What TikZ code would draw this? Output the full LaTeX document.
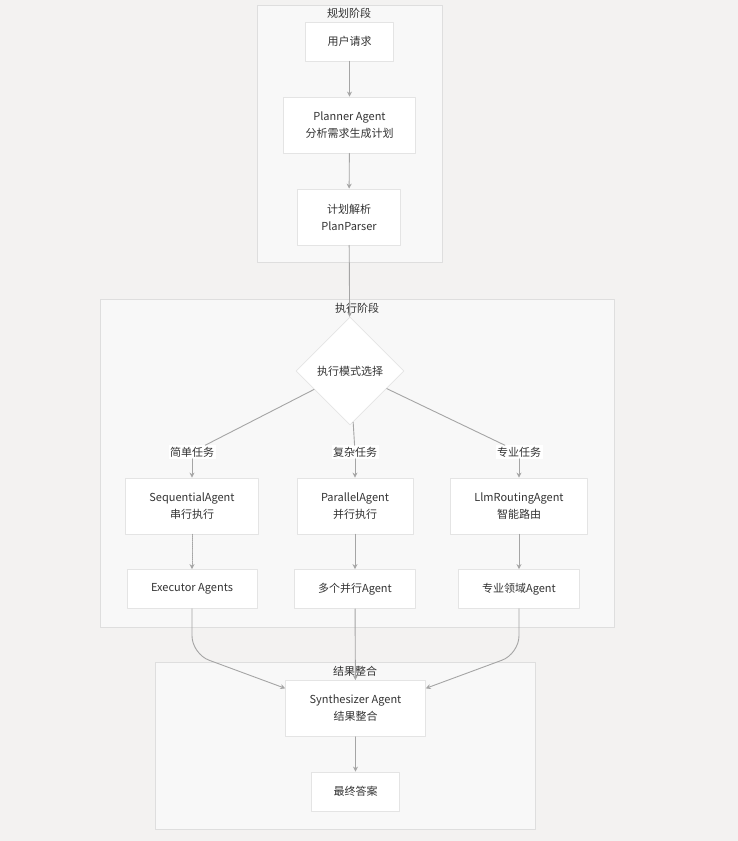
\documentclass[tikz,border=0pt]{standalone}
\usepackage{fontspec}
\setmainfont{Noto Sans CJK SC}
\usetikzlibrary{shapes.geometric,arrows.meta}
\definecolor{bgcol}{RGB}{243,242,241}
\definecolor{clfill}{RGB}{248,248,248}
\definecolor{clline}{RGB}{222,222,222}
\definecolor{boxline}{RGB}{228,228,228}
\definecolor{edgecol}{RGB}{165,165,165}
\definecolor{txtcol}{RGB}{51,51,51}
\tikzset{
	cluster/.style={fill=clfill,draw=clline,line width=0.8pt},
	box/.style={draw=boxline,fill=white,line width=0.8pt,inner xsep=22pt,minimum height=39pt,align=center},
	boxtwo/.style={box,minimum height=56pt},
	wide/.style={inner xsep=24pt},
	choice/.style={diamond,draw=boxline,fill=white,line width=0.8pt,inner sep=0pt,minimum width=108pt,minimum height=108pt},
	lab/.style={fill=white,inner sep=1.5pt},
	edgeline/.style={->,draw=edgecol,line width=0.9pt}
}
\begin{document}
\begin{tikzpicture}[x=1pt,y=-1pt,>={Stealth[length=5pt,width=5pt]},line join=round,line cap=round,font=\fontsize{11}{17}\selectfont,text=txtcol]
	\def\xa{192}
	\def\xb{355}
	\def\xc{519}
	\fill[bgcol] (0,0) rectangle (738,841);
	\useasboundingbox (0,0) rectangle (738,841);
	% stages
	\draw[cluster] (257,5) rectangle (442,262);
	\draw[cluster] (100,299) rectangle (614,627);
	\draw[cluster] (155,662) rectangle (535,829);
	\node (t1) at (349,13){规划阶段};
	\node (t2) at (357,308){执行阶段};
	\node (t3) at (355,671){结果整合};
	% planning
	\node[box] (req) at (349.5,41.5){用户请求};
	\node[boxtwo] (pla) at (349.5,125){Planner Agent\\分析需求生成计划};
	\node[boxtwo,wide] (pars) at (349,217){计划解析\\PlanParser};
	% execution
	\node[choice] (sel) at (350,371){执行模式选择};
	\node[lab] (l1) at (\xa,452){简单任务};
	\node[lab] (l2) at (\xb,452){复杂任务};
	\node[lab] (l3) at (\xc,452){专业任务};
	\node[boxtwo,wide] (seq) at (\xa,506){SequentialAgent\\串行执行};
	\node[boxtwo,wide] (prl) at (\xb,506){ParallelAgent\\并行执行};
	\node[boxtwo,wide] (llm) at (\xc,506){LlmRoutingAgent\\智能路由};
	\node[box,wide] (exe) at (\xa,589){Executor Agents};
	\node[box,wide] (mul) at (\xb,589){多个并行Agent};
	\node[box,wide] (spe) at (\xc,589){专业领域Agent};
	% result
	\node[boxtwo,wide] (syn) at (355.5,708.5){Synthesizer Agent\\结果整合};
	\node[box] (fin) at (355.5,791.5){最终答案};
	\foreach \x/\y in {req/pla,pla/pars,pars/sel,l1/seq,l2/prl,l3/llm,prl/mul,llm/spe,mul/syn,syn/fin}
	{
		\draw[edgeline] (\x)--(\y);
	}
	\foreach \y in {l1,l2,l3}
	{
		\draw[edgeline,-] (sel)--(\y);
	}
	\draw[edgeline,densely dotted] (seq)--(exe);
	\draw[edgeline,rounded corners=18pt] (exe.south)--++(0,45)--(syn.164);
	\draw[edgeline,rounded corners=18pt] (spe.south)--++(0,45)--(syn.16);
\end{tikzpicture}
\end{document}
